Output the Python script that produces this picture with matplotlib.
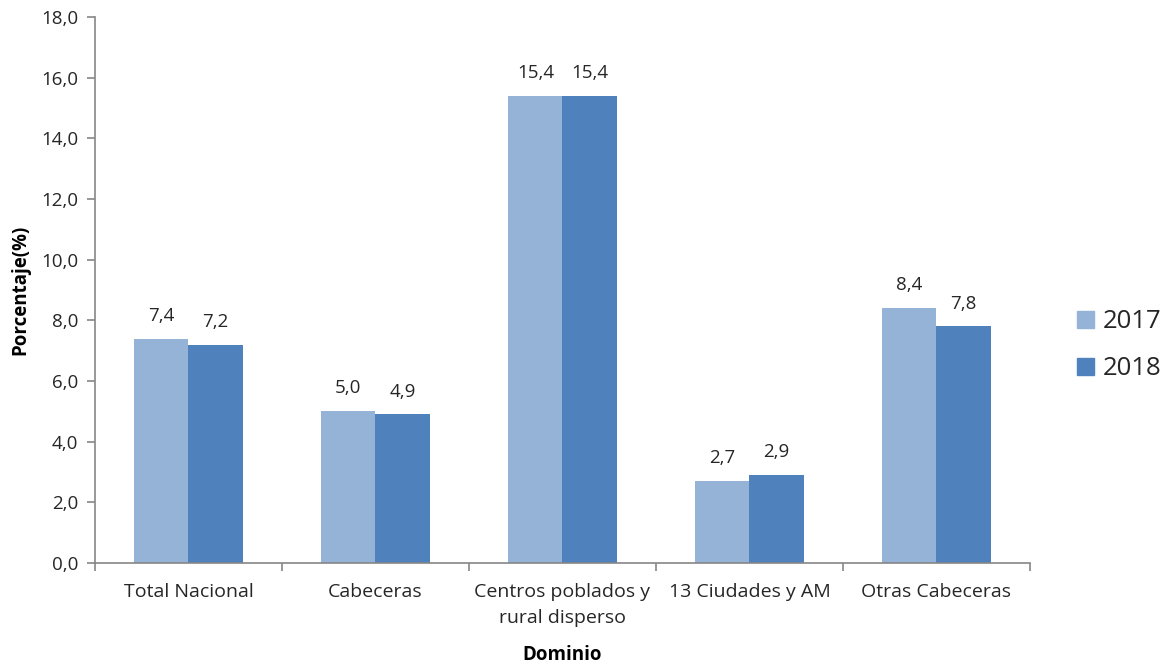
import matplotlib
matplotlib.use("Agg")
import matplotlib.pyplot as plt
from matplotlib.patches import Patch
import numpy as np

categories = ["Total Nacional", "Cabeceras", "Centros poblados y\nrural disperso",
              "13 Ciudades y AM", "Otras Cabeceras"]
series_names = ["2017", "2018"]
values_2017 = [7.4, 5.0, 15.4, 2.7, 8.4]
values_2018 = [7.2, 4.9, 15.4, 2.9, 7.8]
yticks = [0, 2, 4, 6, 8, 10, 12, 14, 16, 18]

c17 = "#95B3D7"
c18 = "#4F81BD"
txt = "#262626"
spine_c = "#868686"

plt.rcParams['font.family'] = ['Open Sans', 'DejaVu Sans']

fig = plt.figure(figsize=(11.67, 6.64), dpi=100)
ax = fig.add_axes([0.0814, 0.152, 0.8012, 0.8224])

x = np.arange(len(categories))
w = 0.29
b1 = ax.bar(x - w/2, values_2017, w, color=c17, label=series_names[0])
b2 = ax.bar(x + w/2, values_2018, w, color=c18, label=series_names[1])

fmt = lambda v: f"{v:.1f}".replace(".", ",")
for bars, vals in ((b1, values_2017), (b2, values_2018)):
    for r, v in zip(bars, vals):
        ax.annotate(fmt(v), (r.get_x() + r.get_width()/2, v), xytext=(0, 10),
                    textcoords="offset points", ha="center", va="bottom",
                    fontsize=13.5, color=txt)

ax.set_xlim(-0.5, len(categories) - 0.5)
ax.set_ylim(0, 18)
ax.set_yticks(yticks)
ax.set_yticklabels([fmt(t) for t in yticks], fontsize=13.5, color=txt)
ax.set_xticks(x)
ax.set_xticklabels(categories, fontsize=14, color=txt, linespacing=1.6)
ax.tick_params(axis='x', which='major', length=0, pad=14)
ax.set_xticks(np.arange(len(categories) + 1) - 0.5, minor=True)
ax.tick_params(axis='x', which='minor', length=6, color=spine_c, width=1.2)
ax.tick_params(axis='y', length=6, color=spine_c, width=1.2, pad=6)

for s in ("top", "right"):
    ax.spines[s].set_visible(False)
for s in ("left", "bottom"):
    ax.spines[s].set_color(spine_c)
    ax.spines[s].set_linewidth(1.2)

ax.set_ylabel("Porcentaje(%)", fontsize=13.5, fontweight="bold", color="black", labelpad=8)
ax.set_xlabel("Dominio", fontsize=13.5, fontweight="bold", color="black", labelpad=13)

handles = [Patch(color=c17, label=series_names[0]), Patch(color=c18, label=series_names[1])]
fig.legend(handles=handles, loc="center left", bbox_to_anchor=(0.903, 0.48), frameon=False,
           fontsize=18.5, handlelength=0.65, handleheight=0.65, handletextpad=0.35,
           labelspacing=0.85, labelcolor=txt)

fig.savefig("out.png", dpi=100)
